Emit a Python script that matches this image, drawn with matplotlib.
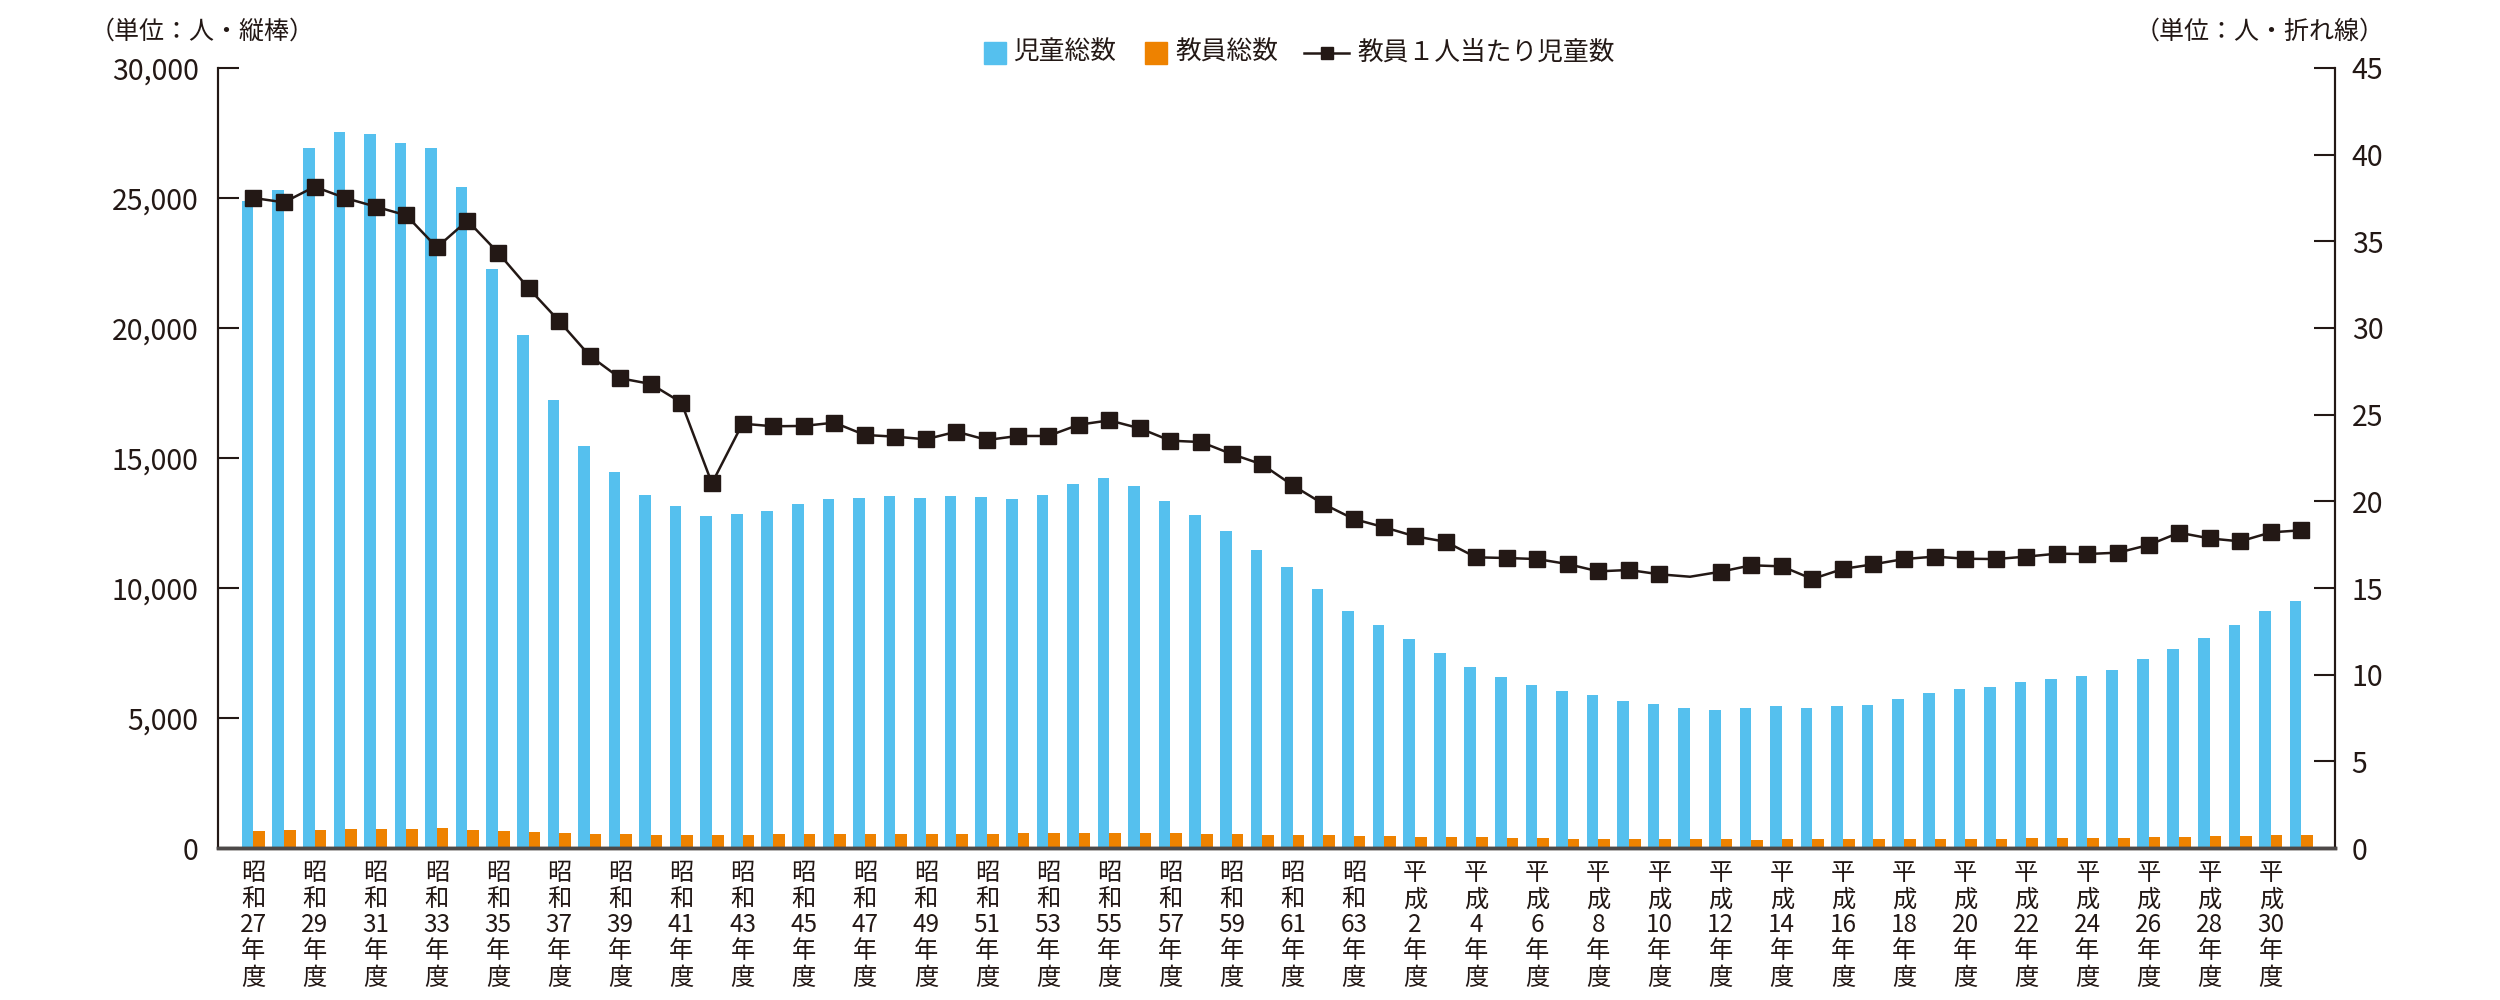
import numpy as np
import matplotlib
matplotlib.use('Agg')
import matplotlib.pyplot as plt
from matplotlib.lines import Line2D
from matplotlib.patches import Rectangle
from matplotlib.ticker import FuncFormatter, MultipleLocator

plt.rcParams['font.family'] = ['Noto Sans CJK JP', 'DejaVu Sans']

# fiscal years 昭和27 .. 令和元 (last one has no label in the chart)
fiscal_years = ['昭和27', '昭和28', '昭和29', '昭和30', '昭和31', '昭和32', '昭和33', '昭和34',
                '昭和35', '昭和36', '昭和37', '昭和38', '昭和39', '昭和40', '昭和41', '昭和42',
                '昭和43', '昭和44', '昭和45', '昭和46', '昭和47', '昭和48', '昭和49', '昭和50',
                '昭和51', '昭和52', '昭和53', '昭和54', '昭和55', '昭和56', '昭和57', '昭和58',
                '昭和59', '昭和60', '昭和61', '昭和62', '昭和63', '平成1', '平成2', '平成3',
                '平成4', '平成5', '平成6', '平成7', '平成8', '平成9', '平成10', '平成11',
                '平成12', '平成13', '平成14', '平成15', '平成16', '平成17', '平成18', '平成19',
                '平成20', '平成21', '平成22', '平成23', '平成24', '平成25', '平成26', '平成27',
                '平成28', '平成29', '平成30', '令和1']

# 児童総数 (people)
children = [24880, 25320, 26910, 27520, 27470, 27110, 26910, 25430, 22280, 19730,
            17220, 15470, 14470, 13590, 13170, 12770, 12830, 12970, 13220, 13410,
            13460, 13550, 13460, 13550, 13500, 13420, 13590, 14000, 14220, 13920,
            13330, 12820, 12180, 11480, 10810, 9950, 9130, 8590, 8050, 7500,
            6950, 6580, 6260, 6040, 5900, 5640, 5530, 5370, 5310, 5370,
            5450, 5370, 5460, 5500, 5720, 5950, 6130, 6190, 6380, 6510,
            6600, 6830, 7270, 7650, 8060, 8580, 9100, 9500]

# 教員総数 (people)
teachers = [655, 675, 700, 735, 738, 738, 772, 698, 640, 602,
            560, 548, 525, 505, 505, 495, 510, 522, 540, 542,
            552, 555, 545, 545, 552, 558, 560, 575, 572, 570,
            560, 542, 525, 510, 508, 495, 478, 463, 442, 410,
            405, 382, 367, 364, 364, 349, 348, 332, 327, 318,
            328, 335, 337, 336, 332, 350, 363, 365, 383, 384,
            380, 399, 406, 409, 443, 480, 494, 515]

# 教員1人当たり児童数
per_teacher = [37.5, 37.25, 38.15, 37.5, 37.0, 36.5, 34.65, 36.2, 34.35, 32.3,
               30.4, 28.4, 27.1, 26.77, 25.7, 21.04, 24.48, 24.33, 24.35, 24.54,
               23.83, 23.73, 23.58, 24.02, 23.54, 23.77, 23.77, 24.42, 24.67, 24.21,
               23.5, 23.42, 22.73, 22.13, 20.92, 19.85, 18.98, 18.5, 17.98, 17.67,
               16.77, 16.73, 16.67, 16.38, 15.96, 16.04, 15.79, 15.65, 15.94, 16.31,
               16.25, 15.52, 16.1, 16.37, 16.67, 16.81, 16.69, 16.67, 16.81, 16.98,
               16.96, 17.04, 17.48, 18.19, 17.86, 17.69, 18.21, 18.33]
no_marker = [47]  # this point is drawn without a marker in the original

blue = '#55C0EE'
orange = '#EE8200'
dark = '#231815'

x = np.arange(len(fiscal_years))

fig = plt.figure(figsize=(25, 10), dpi=100)
ax = fig.add_axes([0.0872, 0.152, 0.8468, 0.780])

ax.bar(x, children, width=-0.38, align='edge', color=blue, zorder=2)
ax.bar(x, teachers, width=0.38, align='edge', color=orange, zorder=2)
ax.set_xlim(-1.16, 68.1)
ax.set_ylim(0, 30000)
ax.yaxis.set_major_locator(MultipleLocator(5000))
ax.yaxis.set_major_formatter(FuncFormatter(lambda v, p: f'{int(v):,}'))

# x labels every second year, written vertically
label_pos = x[:-1:2]
labels = []
for i in label_pos:
    name = fiscal_years[i]
    labels.append('\n'.join([name[0], name[1], name[2:], '年', '度']))
ax.set_xticks(label_pos)
ax.set_xticklabels(labels, fontsize=17.5, linespacing=1.0, color=dark)
ax.tick_params(axis='x', length=0, pad=9)
ax.tick_params(axis='y', direction='in', length=15, width=1.5, color=dark,
               labelsize=20.5, pad=14, labelcolor=dark)

ax2 = ax.twinx()
marks = [i for i in x if i not in no_marker]
ax2.plot(x, per_teacher, color=dark, lw=1.8, marker='s', ms=11, markevery=marks, zorder=3)
ax2.set_ylim(0, 45)
ax2.yaxis.set_major_locator(MultipleLocator(5))
ax2.tick_params(axis='y', direction='in', length=15, width=1.5, color=dark,
                labelsize=20.5, pad=12, labelcolor=dark)

for a in (ax, ax2):
    a.spines['top'].set_visible(False)
    a.spines['left'].set_color(dark)
    a.spines['right'].set_color(dark)
    a.spines['left'].set_linewidth(1.5)
    a.spines['right'].set_linewidth(1.5)
    a.spines['bottom'].set_color('#4d4948')
    a.spines['bottom'].set_linewidth(2.5)

# unit notes
fig.text(0.036, 0.968, '（単位：人・縦棒）', fontsize=18, color=dark, va='center')
fig.text(0.954, 0.968, '（単位：人・折れ線）', fontsize=18, color=dark, va='center', ha='right')

# legend
ly = 0.947
fig.add_artist(Rectangle((984 / 2500, ly - 0.011), 22 / 2500, 0.022, color=blue, transform=fig.transFigure))
fig.text(1013 / 2500, ly, '児童総数', fontsize=18.5, color=dark, va='center')
fig.add_artist(Rectangle((1145 / 2500, ly - 0.011), 22 / 2500, 0.022, color=orange, transform=fig.transFigure))
fig.text(1176 / 2500, ly, '教員総数', fontsize=18.5, color=dark, va='center')
fig.add_artist(Line2D([1304 / 2500, 1349 / 2500], [ly, ly], color=dark, lw=1.8, transform=fig.transFigure))
fig.add_artist(Line2D([1326.5 / 2500], [ly], color=dark, marker='s', ms=9, transform=fig.transFigure))
fig.text(1358 / 2500, ly, '教員１人当たり児童数', fontsize=18.5, color=dark, va='center')

fig.savefig('out.png', dpi=100, facecolor='white')
